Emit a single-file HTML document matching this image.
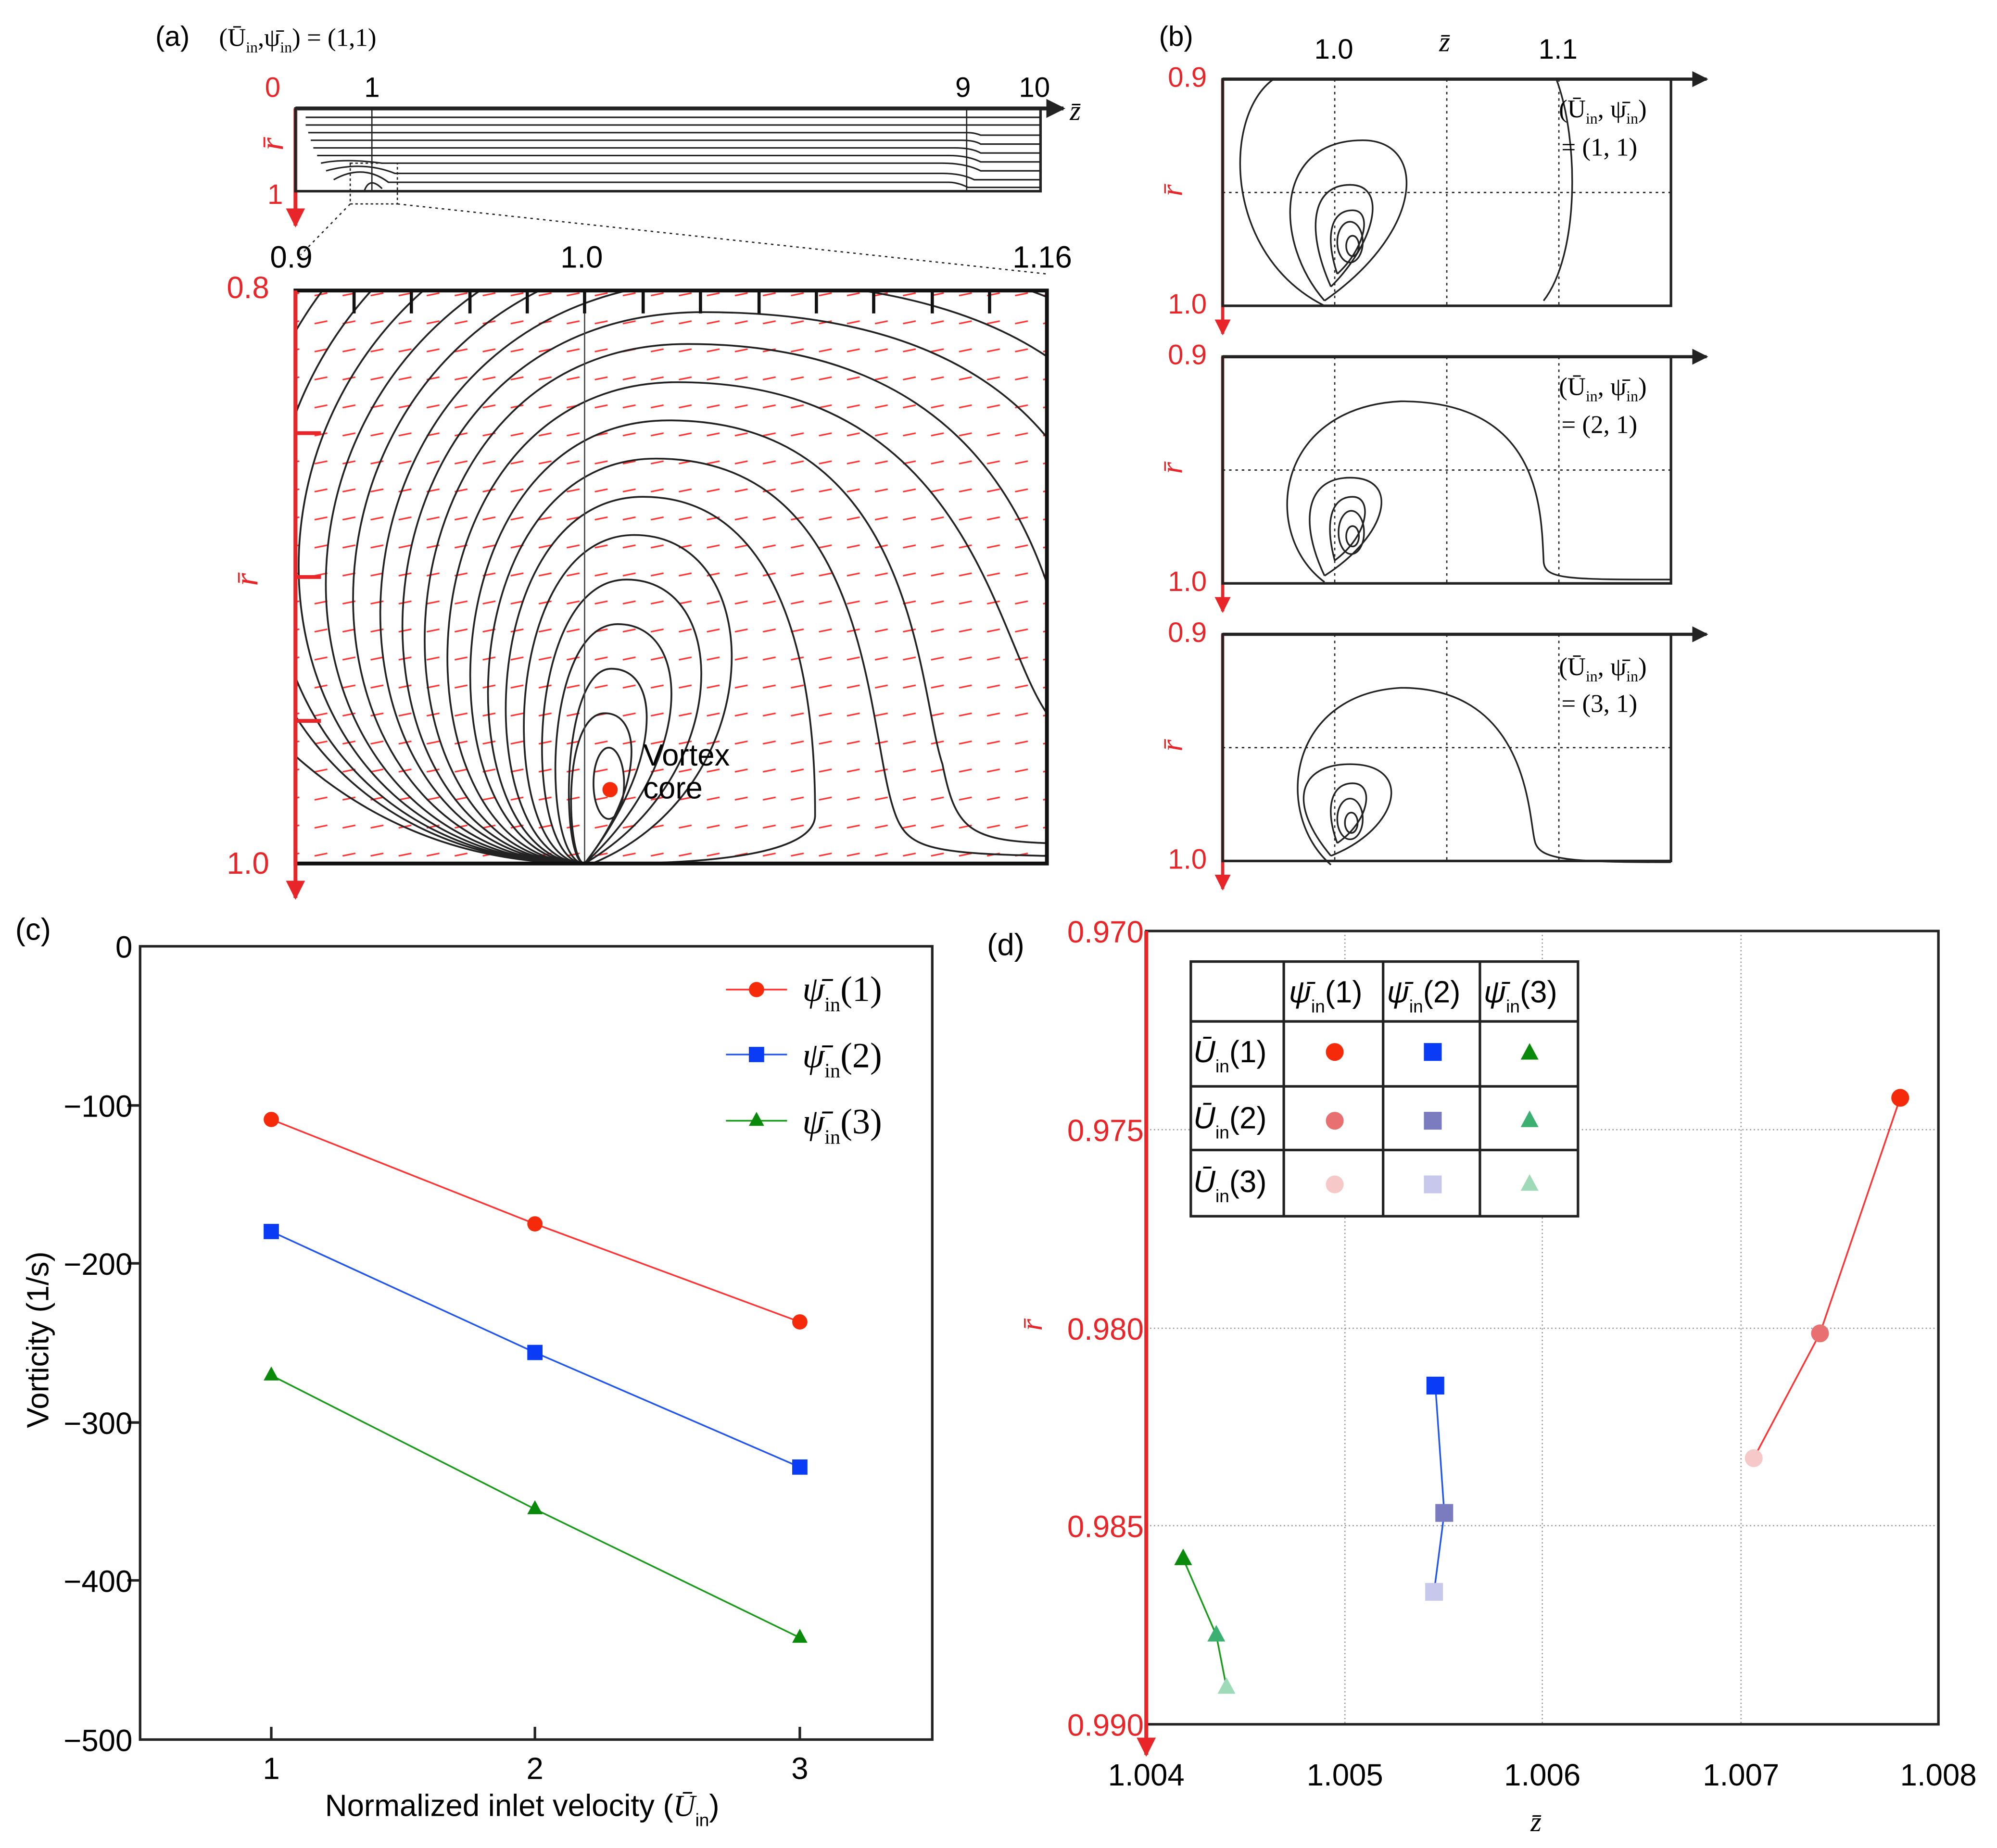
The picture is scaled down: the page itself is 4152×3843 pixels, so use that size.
<!DOCTYPE html>
<html><head><meta charset="utf-8">
<style>
html,body{margin:0;padding:0;background:#fff}
svg{display:block}
text{font-family:"Liberation Sans",sans-serif}
.s{font-family:"Liberation Serif",serif}
</style></head><body>
<svg width="4152" height="3843" viewBox="0 0 1568 1451" xmlns="http://www.w3.org/2000/svg">
<defs>
<marker id="ar" viewBox="0 0 10 10" refX="9" refY="5" markerWidth="5" markerHeight="5" orient="auto"><path d="M0,0L10,5L0,10z" fill="#e8262a"/></marker>
<marker id="ak" viewBox="0 0 10 10" refX="9" refY="5" markerWidth="5" markerHeight="5" orient="auto"><path d="M0,0L10,5L0,10z" fill="#222"/></marker>
<pattern id="vec" width="22" height="22" patternUnits="userSpaceOnUse"><line x1="5" y1="12" x2="15" y2="10" stroke="#f33" stroke-width="1.2"/></pattern>
<clipPath id="cA"><rect x="232" y="228" width="590" height="450"/></clipPath>
</defs>

<!-- panel a top -->
<text x="122" y="36" font-size="22">(a)</text>
<text x="172" y="36" font-size="20" class="s">(Ū<tspan font-size="12" dy="5">in</tspan><tspan dy="-5">,ψ̄</tspan><tspan font-size="12" dy="5">in</tspan><tspan dy="-5">) = (1,1)</tspan></text>
<line x1="232" y1="85" x2="835" y2="85" stroke="#222" stroke-width="3" marker-end="url(#ak)"/>
<line x1="232" y1="85" x2="232" y2="177" stroke="#e8262a" stroke-width="3" marker-end="url(#ar)"/>
<rect x="232" y="85" width="585" height="65" fill="none" stroke="#222" stroke-width="2"/>
<g stroke="#222" stroke-width="1.2" fill="none">
<path d="M240,92 H817"/><path d="M240,98 H817"/><path d="M242,104 H760 Q765,104 770,106 H817"/><path d="M244,110 H755 Q765,110 770,113 H817"/><path d="M246,116 H750 Q763,116 770,120 H817"/><path d="M249,122 H745 Q760,122 770,127 H817"/><path d="M252,128 Q270,124 300,128 H740 Q758,128 770,134 H817"/><path d="M256,134 Q285,126 310,136 H740 Q755,136 765,141 H817"/><path d="M262,141 Q285,128 305,143 H745 Q752,143 760,147 H817"/><path d="M286,150 Q290,138 300,148"/>
</g>
<line x1="292" y1="85" x2="292" y2="150" stroke="#222" stroke-width="1"/>
<line x1="759" y1="85" x2="759" y2="150" stroke="#222" stroke-width="1"/>
<text x="208" y="76" font-size="22" fill="#e8262a">0</text>
<text x="286" y="76" font-size="22">1</text>
<text x="750" y="76" font-size="22">9</text>
<text x="800" y="76" font-size="22">10</text>
<text x="840" y="94" font-size="22" class="s" font-style="italic">z̄</text>
<text x="222" y="118" font-size="26" class="s" fill="#e8262a" font-style="italic" transform="rotate(-90 222 118)">r̄</text>
<text x="210" y="160" font-size="22" fill="#e8262a">1</text>
<rect x="275" y="128" width="37" height="32" fill="none" stroke="#222" stroke-dasharray="2,2"/>
<line x1="275" y1="160" x2="236" y2="200" stroke="#222" stroke-dasharray="2,3"/>
<line x1="312" y1="160" x2="822" y2="215" stroke="#222" stroke-dasharray="2,3"/>

<!-- panel a big -->
<text x="212" y="210" font-size="24">0.9</text>
<text x="440" y="210" font-size="24">1.0</text>
<text x="795" y="210" font-size="24">1.16</text>
<text x="178" y="234" font-size="24" fill="#e8262a">0.8</text>
<text x="178" y="686" font-size="24" fill="#e8262a">1.0</text>
<text x="202" y="460" font-size="26" class="s" fill="#e8262a" font-style="italic" transform="rotate(-90 202 460)">r̄</text>
<rect x="232" y="228" width="590" height="450" fill="url(#vec)"/>
<g clip-path="url(#cA)" stroke="#222" stroke-width="1.4" fill="none">
<ellipse cx="478" cy="615" rx="12" ry="28"/>
<path d="M459,678 C445,678 440,560 475,560 C505,560 505,620 459,678"/>
<path d="M459,678 C440,678 440,525 480,525 C520,525 520,600 459,678"/>
<path d="M459,678 C425,678 425,490 485,490 C545,490 545,600 459,678"/>
<path d="M459,678 C410,678 410,455 492,455 C575,455 575,610 459,678"/>
<path d="M459,678 C390,678 390,420 498,420 C605,420 605,620 465,678"/>
<path d="M459,678 C370,678 370,390 505,390 C640,390 640,600 640,640 C640,670 560,678 480,678"/>
<path d="M459,678 C350,678 350,360 515,360 C680,360 680,560 700,630 C710,665 720,670 822,672"/>
<path d="M459,678 C330,678 330,330 525,330 C720,330 720,540 740,600 C750,650 760,660 822,662"/>
<path d="M459,678 C305,678 305,300 532,300 C760,300 780,500 822,560"/>
<path d="M459,678 C280,678 280,270 540,270 C800,270 820,470 840,510"/>
<path d="M459,678 C255,678 255,245 552,245 C850,245 860,430 880,460"/>
<path d="M459,678 C230,678 230,220 565,220 C900,220 900,400 920,420"/>
<path d="M459,678 C200,678 200,195 575,195 C950,195 950,370 970,380"/>
<path d="M459,678 C170,678 170,170 585,170 C1000,170 1000,340 1020,340"/>
<path d="M459,678 C140,678 140,140 595,140 C1050,140 1050,300 1070,300"/>
<path d="M459,678 C110,678 110,110 600,110"/>
<path d="M459,678 C80,678 80,80 600,80"/>
<path d="M459,678 C60,678 40,100 40,80"/>
</g>
<line x1="459" y1="228" x2="459" y2="678" stroke="#444" stroke-width="1"/>
<rect x="232" y="228" width="590" height="450" fill="none" stroke="#111" stroke-width="3"/>
<g stroke="#111" stroke-width="2.5">
<line x1="278" y1="228" x2="278" y2="246"/><line x1="323" y1="228" x2="323" y2="246"/><line x1="369" y1="228" x2="369" y2="246"/><line x1="414" y1="228" x2="414" y2="246"/><line x1="459" y1="228" x2="459" y2="246"/><line x1="505" y1="228" x2="505" y2="246"/><line x1="550" y1="228" x2="550" y2="246"/><line x1="596" y1="228" x2="596" y2="246"/><line x1="641" y1="228" x2="641" y2="246"/><line x1="686" y1="228" x2="686" y2="246"/><line x1="732" y1="228" x2="732" y2="246"/><line x1="777" y1="228" x2="777" y2="246"/>
</g>
<line x1="232" y1="228" x2="232" y2="705" stroke="#e8262a" stroke-width="3" marker-end="url(#ar)"/>
<g stroke="#e8262a" stroke-width="3"><line x1="232" y1="340" x2="252" y2="340"/><line x1="232" y1="453" x2="252" y2="453"/><line x1="232" y1="566" x2="252" y2="566"/></g>
<circle cx="479" cy="620" r="6" fill="#f52a0a"/>
<text x="505" y="601" font-size="24">Vortex</text>
<text x="505" y="627" font-size="24">core</text>

<!-- panel b -->
<text x="910" y="36" font-size="22">(b)</text>
<text x="1032" y="46" font-size="22">1.0</text>
<text x="1130" y="40" font-size="22" class="s" font-style="italic">z̄</text>
<text x="1208" y="46" font-size="22">1.1</text>
<g id="b1">
<line x1="960" y1="62" x2="1340" y2="62" stroke="#222" stroke-width="2.5" marker-end="url(#ak)"/>
<line x1="960" y1="62" x2="960" y2="262" stroke="#e8262a" stroke-width="2.5" marker-end="url(#ar)"/>
<rect x="960" y="62" width="352" height="178" fill="none" stroke="#222" stroke-width="2"/>
<g stroke="#222" stroke-dasharray="2,3" stroke-width="1"><line x1="1048" y1="62" x2="1048" y2="240"/><line x1="1136" y1="62" x2="1136" y2="240"/><line x1="1224" y1="62" x2="1224" y2="240"/><line x1="960" y1="151" x2="1312" y2="151"/></g>
<text x="917" y="68" font-size="22" fill="#e8262a">0.9</text>
<text x="917" y="246" font-size="22" fill="#e8262a">1.0</text>
<text x="928" y="154" font-size="24" class="s" fill="#e8262a" font-style="italic" transform="rotate(-90 928 154)">r̄</text>
</g>
<g stroke="#222" stroke-width="1.3" fill="none">
<path d="M1040,240 C960,200 960,90 1000,62"/><path d="M1222,62 C1240,110 1240,200 1212,236"/>
<path d="M1040,236 C1000,190 1000,110 1070,110 C1120,110 1120,180 1040,236"/>
<path d="M1045,225 C1025,180 1030,145 1060,145 C1090,145 1080,190 1045,225"/>
<path d="M1050,215 C1040,185 1045,165 1062,165 C1078,165 1072,195 1050,215"/>
<ellipse cx="1060" cy="190" rx="10" ry="16"/><ellipse cx="1062" cy="193" rx="5" ry="8"/>
</g>
<text x="1224" y="92" font-size="20" class="s">(Ū<tspan font-size="12" dy="5">in</tspan><tspan dy="-5">, ψ̄</tspan><tspan font-size="12" dy="5">in</tspan><tspan dy="-5">)</tspan></text>
<text x="1226" y="122" font-size="20" class="s">= (1, 1)</text>

<use href="#b1" transform="translate(0,218)"/>
<g stroke="#222" stroke-width="1.3" fill="none">
<path d="M1040,457 C990,420 1000,320 1100,315 C1210,315 1210,400 1212,440 C1212,455 1230,455 1312,455"/>
<path d="M1040,452 C1020,410 1025,375 1060,375 C1100,375 1090,420 1040,452"/>
<path d="M1048,440 C1040,410 1045,390 1062,390 C1078,390 1075,420 1048,440"/>
<ellipse cx="1061" cy="418" rx="10" ry="17"/><ellipse cx="1062" cy="421" rx="5" ry="8"/>
</g>
<text x="1224" y="310" font-size="20" class="s">(Ū<tspan font-size="12" dy="5">in</tspan><tspan dy="-5">, ψ̄</tspan><tspan font-size="12" dy="5">in</tspan><tspan dy="-5">)</tspan></text>
<text x="1226" y="340" font-size="20" class="s">= (2, 1)</text>

<use href="#b1" transform="translate(0,436)"/>
<g stroke="#222" stroke-width="1.3" fill="none">
<path d="M1045,679 C1000,640 1010,545 1100,540 C1200,540 1200,640 1205,660 C1208,675 1230,677 1312,677"/>
<path d="M1045,672 C1010,630 1020,600 1060,600 C1110,600 1100,650 1045,672"/>
<path d="M1050,662 C1040,635 1045,615 1062,615 C1080,615 1075,645 1050,662"/>
<ellipse cx="1060" cy="643" rx="10" ry="16"/><ellipse cx="1061" cy="646" rx="5" ry="8"/>
</g>
<text x="1224" y="530" font-size="20" class="s">(Ū<tspan font-size="12" dy="5">in</tspan><tspan dy="-5">, ψ̄</tspan><tspan font-size="12" dy="5">in</tspan><tspan dy="-5">)</tspan></text>
<text x="1226" y="559" font-size="20" class="s">= (3, 1)</text>

<!-- panel c -->
<text x="12" y="738" font-size="24">(c)</text>
<rect x="110" y="743" width="622" height="623" fill="none" stroke="#222" stroke-width="2"/>
<g stroke="#222" stroke-width="2">
<line x1="110" y1="868" x2="100" y2="868"/><line x1="110" y1="992" x2="100" y2="992"/><line x1="110" y1="1117" x2="100" y2="1117"/><line x1="110" y1="1241" x2="100" y2="1241"/>
<line x1="213" y1="1366" x2="213" y2="1356"/><line x1="420" y1="1366" x2="420" y2="1356"/><line x1="628" y1="1366" x2="628" y2="1356"/>
</g>
<g font-size="24" text-anchor="end">
<text x="104" y="752">0</text><text x="104" y="877">−100</text><text x="104" y="1001">−200</text><text x="104" y="1126">−300</text><text x="104" y="1250">−400</text><text x="104" y="1375">−500</text>
</g>
<g font-size="24" text-anchor="middle"><text x="213" y="1397">1</text><text x="420" y="1397">2</text><text x="628" y="1397">3</text></g>
<text x="410" y="1426" font-size="24" text-anchor="middle">Normalized inlet velocity (<tspan class="s" font-style="italic">Ū</tspan><tspan font-size="14" dy="8">in</tspan><tspan dy="-8">)</tspan></text>
<text x="38" y="1052" font-size="24" text-anchor="middle" transform="rotate(-90 38 1052)">Vorticity (1/s)</text>
<polyline points="213,879 420,961 628,1038" fill="none" stroke="#f33" stroke-width="1.3"/>
<polyline points="213,967 420,1062 628,1152" fill="none" stroke="#2255ee" stroke-width="1.3"/>
<polyline points="213,1080 420,1185 628,1286" fill="none" stroke="#1a9a1a" stroke-width="1.3"/>
<g fill="#f52a0a"><circle cx="213" cy="879" r="6"/><circle cx="420" cy="961" r="6"/><circle cx="628" cy="1038" r="6"/></g>
<g fill="#0a3cf5"><rect x="207" y="961" width="12" height="12"/><rect x="414" y="1056" width="12" height="12"/><rect x="622" y="1146" width="12" height="12"/></g>
<g fill="#0a8a0a"><path d="M213,1073 l6,11 h-12z"/><path d="M420,1178 l6,11 h-12z"/><path d="M628,1279 l6,11 h-12z"/></g>
<line x1="570" y1="777" x2="618" y2="777" stroke="#f33" stroke-width="1.3"/><circle cx="594" cy="777" r="6" fill="#f52a0a"/>
<line x1="570" y1="828" x2="618" y2="828" stroke="#2255ee" stroke-width="1.3"/><rect x="588" y="822" width="12" height="12" fill="#0a3cf5"/>
<line x1="570" y1="880" x2="618" y2="880" stroke="#1a9a1a" stroke-width="1.3"/><path d="M594,873 l6,11 h-12z" fill="#0a8a0a"/>
<g font-size="28" class="s"><text x="630" y="786" class="s"><tspan font-style="italic">ψ̄</tspan><tspan font-size="16" dy="8">in</tspan><tspan dy="-8">(1)</tspan></text>
<text x="630" y="838" class="s"><tspan font-style="italic">ψ̄</tspan><tspan font-size="16" dy="8">in</tspan><tspan dy="-8">(2)</tspan></text>
<text x="630" y="890" class="s"><tspan font-style="italic">ψ̄</tspan><tspan font-size="16" dy="8">in</tspan><tspan dy="-8">(3)</tspan></text></g>

<!-- panel d -->
<text x="775" y="750" font-size="24">(d)</text>
<g stroke="#999" stroke-width="1" stroke-dasharray="1,2">
<line x1="1056" y1="731" x2="1056" y2="1354"/><line x1="1211" y1="731" x2="1211" y2="1354"/><line x1="1367" y1="731" x2="1367" y2="1354"/>
<line x1="900" y1="887" x2="1522" y2="887"/><line x1="900" y1="1043" x2="1522" y2="1043"/><line x1="900" y1="1198" x2="1522" y2="1198"/>
</g>
<rect x="900" y="731" width="622" height="623" fill="none" stroke="#222" stroke-width="2"/>
<line x1="900" y1="731" x2="900" y2="1378" stroke="#e8262a" stroke-width="3" marker-end="url(#ar)"/>
<g font-size="24" fill="#e8262a" text-anchor="end">
<text x="898" y="740">0.970</text><text x="898" y="896">0.975</text><text x="898" y="1052">0.980</text><text x="898" y="1207">0.985</text><text x="898" y="1363">0.990</text>
</g>
<text x="818" y="1045" font-size="24" class="s" fill="#e8262a" font-style="italic" transform="rotate(-90 818 1045)">r̄</text>
<g font-size="24" text-anchor="middle"><text x="900" y="1402">1.004</text><text x="1056" y="1402">1.005</text><text x="1211" y="1402">1.006</text><text x="1367" y="1402">1.007</text><text x="1522" y="1402">1.008</text></g>
<text x="1206" y="1438" font-size="22" class="s" font-style="italic" text-anchor="middle">z̄</text>
<polyline points="1492,862 1429,1047 1377,1145" fill="none" stroke="#f33" stroke-width="1.3"/>
<polyline points="1127,1088 1134,1188 1126,1250" fill="none" stroke="#2255ee" stroke-width="1.3"/>
<polyline points="929,1224 955,1284 963,1325" fill="none" stroke="#1a9a1a" stroke-width="1.3"/>
<circle cx="1492" cy="862" r="7" fill="#f52a0a"/><circle cx="1429" cy="1047" r="7" fill="#e87070"/><circle cx="1377" cy="1145" r="7" fill="#f6c8c8"/>
<rect x="1120" y="1081" width="14" height="14" fill="#0a3cf5"/><rect x="1127" y="1181" width="14" height="14" fill="#7b7bc0"/><rect x="1119" y="1243" width="14" height="14" fill="#c8c8ec"/>
<path d="M929,1216 l7,13 h-14z" fill="#0a8a0a"/><path d="M955,1276 l7,13 h-14z" fill="#3cb070"/><path d="M963,1317 l7,13 h-14z" fill="#9ed9b8"/>
<!-- table -->
<rect x="935" y="755" width="304" height="200" fill="#fff" stroke="#222" stroke-width="2"/>
<g stroke="#222" stroke-width="2">
<line x1="1008" y1="755" x2="1008" y2="955"/><line x1="1086" y1="755" x2="1086" y2="955"/><line x1="1162" y1="755" x2="1162" y2="955"/>
<line x1="935" y1="802" x2="1239" y2="802"/><line x1="935" y1="853" x2="1239" y2="853"/><line x1="935" y1="903" x2="1239" y2="903"/>
</g>
<g font-size="24" class="s">
<text x="1012" y="787"><tspan font-style="italic">ψ̄</tspan><tspan font-size="14" dy="8">in</tspan><tspan dy="-8">(1)</tspan></text>
<text x="1089" y="787"><tspan font-style="italic">ψ̄</tspan><tspan font-size="14" dy="8">in</tspan><tspan dy="-8">(2)</tspan></text>
<text x="1165" y="787"><tspan font-style="italic">ψ̄</tspan><tspan font-size="14" dy="8">in</tspan><tspan dy="-8">(3)</tspan></text>
<text x="937" y="834"><tspan font-style="italic">Ū</tspan><tspan font-size="14" dy="8">in</tspan><tspan dy="-8">(1)</tspan></text>
<text x="937" y="886"><tspan font-style="italic">Ū</tspan><tspan font-size="14" dy="8">in</tspan><tspan dy="-8">(2)</tspan></text>
<text x="937" y="936"><tspan font-style="italic">Ū</tspan><tspan font-size="14" dy="8">in</tspan><tspan dy="-8">(3)</tspan></text>
</g>
<circle cx="1048" cy="826" r="7" fill="#f52a0a"/><circle cx="1048" cy="880" r="7" fill="#e87070"/><circle cx="1048" cy="930" r="7" fill="#f6c8c8"/>
<rect x="1118" y="819" width="14" height="14" fill="#0a3cf5"/><rect x="1118" y="873" width="14" height="14" fill="#7b7bc0"/><rect x="1118" y="923" width="14" height="14" fill="#c8c8ec"/>
<path d="M1201,819 l7,13 h-14z" fill="#0a8a0a"/><path d="M1201,872 l7,13 h-14z" fill="#3cb070"/><path d="M1201,922 l7,13 h-14z" fill="#9ed9b8"/>
</svg>
</body></html>
